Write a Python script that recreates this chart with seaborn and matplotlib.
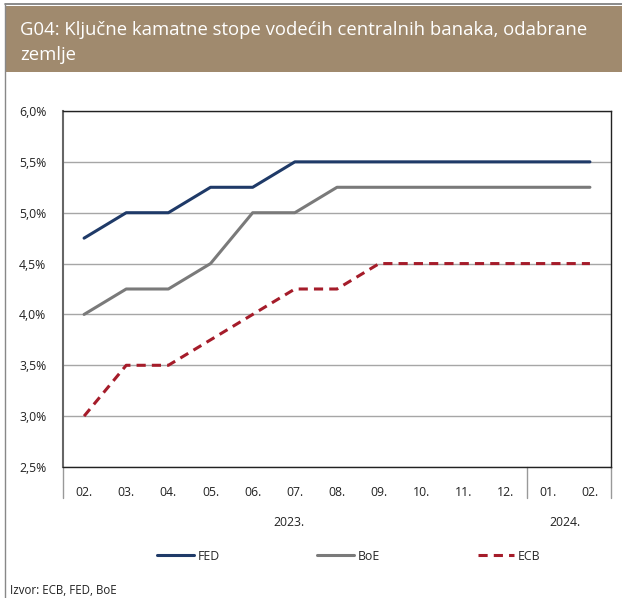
import numpy as np
import pandas as pd
import seaborn as sns
import matplotlib.pyplot as plt
from matplotlib.patches import Rectangle
from matplotlib.lines import Line2D

months = ["02.", "03.", "04.", "05.", "06.", "07.", "08.", "09.", "10.", "11.", "12.", "01.", "02."]
years = ["2023.", "2024."]
fed = [4.75, 5.0, 5.0, 5.25, 5.25, 5.5, 5.5, 5.5, 5.5, 5.5, 5.5, 5.5, 5.5]
boe = [4.0, 4.25, 4.25, 4.5, 5.0, 5.0, 5.25, 5.25, 5.25, 5.25, 5.25, 5.25, 5.25]
ecb = [3.0, 3.5, 3.5, 3.75, 4.0, 4.25, 4.25, 4.5, 4.5, 4.5, 4.5, 4.5, 4.5]
yticks = [2.5, 3.0, 3.5, 4.0, 4.5, 5.0, 5.5, 6.0]

sns.set_style("white")
plt.rcParams['font.family'] = ['Open Sans', 'DejaVu Sans']

W, H = 622, 598
fig = plt.figure(figsize=(W / 100, H / 100), dpi=100)

# banner
fig.patches.append(Rectangle((5 / W, 1 - 72 / H), 617 / W, 66 / H, transform=fig.transFigure,
                             facecolor="#a08a6e", edgecolor="none", zorder=0))
fig.lines.append(Line2D([5 / W, 1], [1 - 4 / H, 1 - 4 / H], transform=fig.transFigure, color="#777777", lw=1.2))
fig.lines.append(Line2D([5 / W, 5 / W], [0, 1 - 4 / H], transform=fig.transFigure, color="#888888", lw=1))
fig.text(20 / W, 1 - 30 / H, "G04: Ključne kamatne stope vodećih centralnih banaka, odabrane",
         color="white", fontsize=13.3, va="center", ha="left")
fig.text(20 / W, 1 - 55 / H, "zemlje", color="white", fontsize=13.3, va="center", ha="left")

x0, x1, y0, y1 = 63, 611, 111, 467
ax = fig.add_axes([x0 / W, 1 - y1 / H, (x1 - x0) / W, (y1 - y0) / H])

x = np.arange(len(months))
df = pd.DataFrame({"x": x, "FED": fed, "BoE": boe, "ECB": ecb})
sns.lineplot(data=df, x="x", y="FED", ax=ax, color="#1f3a68", lw=2.2, label="FED")
sns.lineplot(data=df, x="x", y="BoE", ax=ax, color="#7a7a7a", lw=2.2, label="BoE")
sns.lineplot(data=df, x="x", y="ECB", ax=ax, color="#a51c2a", lw=2.2, ls=(0, (3, 2)), label="ECB")

ax.set_xlim(-0.5, len(months) - 0.5)
ax.set_ylim(2.5, 6.0)
ax.set_yticks(yticks)
ax.set_yticklabels([f"{v:.1f}%".replace(".", ",") for v in yticks], fontsize=8.8, color="#222222")
ax.yaxis.grid(True, color="#a6a6a6", lw=1)
ax.set_xticks(x)
ax.set_xticklabels(months, fontsize=8.8, color="#222222")
ax.tick_params(axis="x", length=0, pad=14)
ax.tick_params(axis="y", length=0, pad=12)
ax.set_xlabel("")
ax.set_ylabel("")
for s in ax.spines.values():
    s.set_visible(True)
    s.set_color("#222222")
    s.set_linewidth(1)
ax.spines["left"].set_color("#666666")
ax.spines["left"].set_linewidth(1.5)
ax.get_legend().remove()

# category separators below axis
for xs in [-0.5, 10.5, 12.5]:
    ax.plot([xs, xs], [0, -31 / (y1 - y0)], transform=ax.get_xaxis_transform(),
            color="#999999", lw=1, clip_on=False)
ax.text(4.85, -55 / (y1 - y0), years[0], transform=ax.get_xaxis_transform(),
        fontsize=8.8, ha="center", va="center", color="#222222")
ax.text(11.4, -55 / (y1 - y0), years[1], transform=ax.get_xaxis_transform(),
        fontsize=8.8, ha="center", va="center", color="#222222")

handles, labels = ax.get_lines()[:3], ["FED", "BoE", "ECB"]
fig.legend(handles, labels, loc="center", bbox_to_anchor=(349 / W, 1 - 556 / H), ncol=3,
           frameon=False, fontsize=8.8, handlelength=3.0, handletextpad=0.3, columnspacing=8.0)

fig.text(10 / W, 1 - 590 / H, "Izvor: ECB, FED, BoE", fontsize=8.3, ha="left", va="center", color="#222222")

fig.savefig("out.png", dpi=100)
